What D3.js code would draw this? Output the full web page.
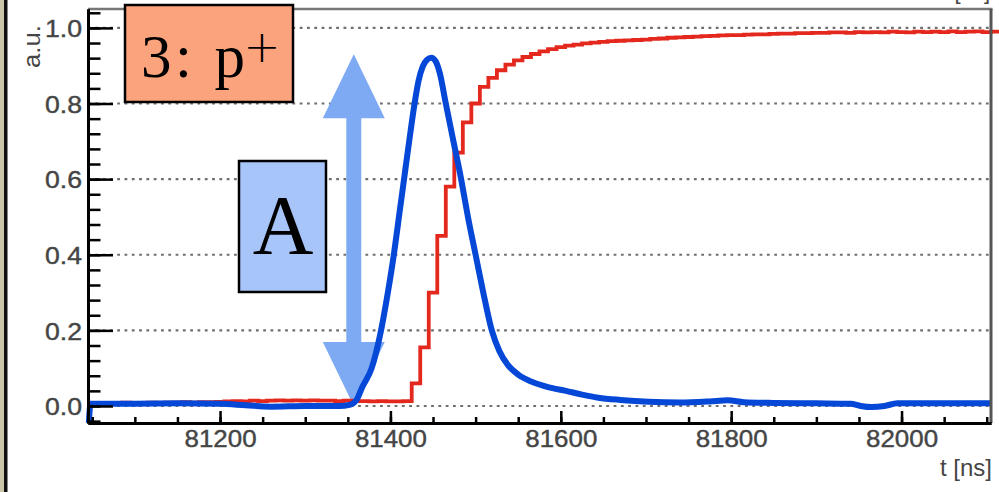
<!DOCTYPE html>
<html>
<head>
<meta charset="utf-8">
<script src="https://cdn.jsdelivr.net/npm/d3@7"></script>
<style>
  html, body { margin: 0; padding: 0; background: #fff; }
  svg { display: block; }
</style>
</head>
<body>
<svg id="chart" width="999" height="492"></svg>
<script>
// ---- data -------------------------------------------------------------
// Time window of the trace [ns]
const tDomain = [81045, 82105];
const yDomain = [-0.045, 1.05];

// Axis ticks
const xMajorTicks = [81200, 81400, 81600, 81800, 82000];
const xMinorTicks = d3.range(81050, 82105, 50);
const yMajorTicks = [0.0, 0.2, 0.4, 0.6, 0.8, 1.0];
const yMinorTicks = d3.range(-0.04, 1.05, 0.04);

// Integrated (cumulative) charge, 10 ns bins starting at 81045 ns
const redBinWidth = 10;
const redValues = [
  0.008, 0.008, 0.007, 0.008, 0.009, 0.008, 0.008, 0.009, 0.008, 0.009,
  0.009, 0.010, 0.009, 0.010, 0.010, 0.011,
  0.012, 0.013, 0.012, 0.014, 0.013, 0.014, 0.015, 0.014, 0.015, 0.014,
  0.015, 0.014, 0.014, 0.013, 0.014, 0.013, 0.013, 0.012, 0.013, 0.012,
  0.012, 0.013,
  0.060, 0.155, 0.300, 0.450, 0.580, 0.670, 0.750, 0.800, 0.844, 0.868,
  0.888, 0.903, 0.914, 0.923, 0.931, 0.938, 0.944, 0.949, 0.953, 0.956,
  0.959, 0.961, 0.963, 0.965, 0.966, 0.967, 0.968, 0.969, 0.971, 0.972,
  0.974, 0.975, 0.976, 0.977, 0.978, 0.979, 0.980, 0.981, 0.981, 0.982,
  0.983, 0.983, 0.984, 0.985, 0.985, 0.986, 0.986, 0.987, 0.987, 0.988,
  0.988, 0.987, 0.989, 0.988, 0.989, 0.988, 0.990, 0.989, 0.988, 0.990,
  0.989, 0.990, 0.989, 0.991, 0.989, 0.990, 0.991, 0.989, 0.990
];

// Current pulse (normalised), time [ns] and amplitude
const blueT = [
  81046, 81048, 81100, 81150, 81200, 81230, 81260, 81300, 81340, 81352,
  81360, 81367, 81378, 81389, 81397, 81404, 81410, 81416, 81422, 81428,
  81433, 81438, 81443, 81448, 81453, 81458, 81465, 81474, 81483, 81491,
  81500, 81509, 81519, 81528, 81538, 81550, 81566, 81585, 81606, 81625,
  81644, 81670, 81703, 81740, 81775, 81796, 81815, 81850, 81900, 81940,
  81952, 81965, 81980, 81995, 82050, 82104
];
const blueV = [
  -0.045, 0.006, 0.006, 0.007, 0.006, 0.002, -0.002, 0.000, 0.000, 0.003,
  0.015, 0.050, 0.100, 0.200, 0.300, 0.400, 0.500, 0.600, 0.700, 0.795,
  0.860, 0.898, 0.916, 0.921, 0.912, 0.880, 0.800, 0.700, 0.600, 0.500,
  0.400, 0.300, 0.200, 0.145, 0.108, 0.083, 0.064, 0.050, 0.040, 0.030,
  0.022, 0.016, 0.011, 0.009, 0.012, 0.015, 0.010, 0.008, 0.007, 0.006,
  0.000, -0.003, 0.000, 0.007, 0.007, 0.007
];

// Amplitude annotation: arrow position [ns] and span
const arrowT = 81357;
const arrowSpan = [0.0, 0.93];

// ---- layout -----------------------------------------------------------
const svg = d3.select("#chart");
const plot = { left: 88, right: 991, top: 9, bottom: 423 };

const x = d3.scaleLinear().domain(tDomain).range([plot.left, plot.right]);
const y = d3.scaleLinear().domain(yDomain).range([plot.bottom, plot.top]);

const labelFont = "'Liberation Sans', Arial, Helvetica, sans-serif";
const labelColor = "#454545";

// page edge on the left
svg.append("rect").attr("x", 0).attr("y", 0).attr("width", 4).attr("height", 492).attr("fill", "#cac7a8");
svg.append("rect").attr("x", 4).attr("y", 0).attr("width", 3.5).attr("height", 492).attr("fill", "#111");

// axis title of the panel above, running off the top edge
svg.append("text")
  .attr("x", 990).attr("y", -1)
  .attr("text-anchor", "end")
  .attr("font-family", labelFont).attr("font-size", 22)
  .attr("fill", labelColor)
  .text("t [ns]");

// dotted horizontal grid
svg.append("g")
  .selectAll("line")
  .data(yMajorTicks)
  .join("line")
  .attr("x1", plot.left).attr("x2", plot.right)
  .attr("y1", d => y(d)).attr("y2", d => y(d))
  .attr("stroke", "#6f6f6f")
  .attr("stroke-width", 2.2)
  .attr("stroke-dasharray", "2.8 4.5");

// amplitude arrow (double headed)
const ax = x(arrowT), aTop = y(arrowSpan[1]), aBot = y(arrowSpan[0]);
const headL = 64, headW = 31, shaftW = 7.5;
const arrowPath = [
  [ax, aTop], [ax + headW, aTop + headL], [ax + shaftW, aTop + headL],
  [ax + shaftW, aBot - headL], [ax + headW, aBot - headL], [ax, aBot],
  [ax - headW, aBot - headL], [ax - shaftW, aBot - headL],
  [ax - shaftW, aTop + headL], [ax - headW, aTop + headL]
];
svg.append("path")
  .attr("d", d3.line()(arrowPath) + "Z")
  .attr("fill", "#7eaaf4");

// cumulative charge: step histogram
const redEdges = d3.range(redValues.length).map(i => tDomain[0] + i * redBinWidth);
const redPts = redValues.map((v, i) => [redEdges[i], v]);
redPts.push([tDomain[0] + redValues.length * redBinWidth, redValues[redValues.length - 1]]);
svg.append("path")
  .datum(redPts)
  .attr("fill", "none")
  .attr("stroke", "#e4281d")
  .attr("stroke-width", 3.8)
  .attr("d", d3.line().x(d => x(d[0])).y(d => y(d[1])).curve(d3.curveStepAfter));

// current pulse
const bluePts = blueT.map((t, i) => [t, blueV[i]]);
svg.append("path")
  .datum(bluePts)
  .attr("fill", "none")
  .attr("stroke", "#0547d6")
  .attr("stroke-width", 6)
  .attr("stroke-linejoin", "round")
  .attr("d", d3.line().x(d => x(d[0])).y(d => y(d[1])).curve(d3.curveMonotoneX));

// frame: top and right
svg.append("line")
  .attr("x1", plot.left).attr("x2", plot.right + 1.5)
  .attr("y1", plot.top).attr("y2", plot.top)
  .attr("stroke", "#777").attr("stroke-width", 2.5);
svg.append("line")
  .attr("x1", plot.right).attr("x2", plot.right)
  .attr("y1", plot.top).attr("y2", plot.bottom)
  .attr("stroke", "#555").attr("stroke-width", 3);

// x axis: minor then major ticks, pointing into the frame
const gxMinor = svg.append("g")
  .attr("transform", `translate(0,${plot.bottom})`)
  .call(d3.axisBottom(x).tickValues(xMinorTicks).tickSize(-6).tickSizeOuter(0).tickFormat(""));
const gx = svg.append("g")
  .attr("transform", `translate(0,${plot.bottom})`)
  .call(d3.axisBottom(x).tickValues(xMajorTicks).tickSize(-12).tickSizeOuter(0).tickFormat(d3.format("d")));

// y axis
const gyMinor = svg.append("g")
  .attr("transform", `translate(${plot.left},0)`)
  .call(d3.axisLeft(y).tickValues(yMinorTicks).tickSize(-12.5).tickSizeOuter(0).tickFormat(""));
const gy = svg.append("g")
  .attr("transform", `translate(${plot.left},0)`)
  .call(d3.axisLeft(y).tickValues(yMajorTicks).tickSize(-25).tickSizeOuter(0).tickFormat(d3.format(".1f")));

[gxMinor, gx, gyMinor, gy].forEach(g => {
  g.select(".domain").attr("stroke", "#000").attr("stroke-width", 3);
  g.selectAll(".tick line").attr("stroke", "#000").attr("stroke-width", 2.5);
});

gx.selectAll(".tick text")
  .attr("y", 24).attr("dy", null)
  .attr("font-family", labelFont).attr("font-size", 23)
  .attr("fill", labelColor)
  .attr("stroke", labelColor).attr("stroke-width", 0.4)
  .attr("textLength", 72).attr("lengthAdjust", "spacingAndGlyphs");

gy.selectAll(".tick text")
  .attr("x", -6).attr("dy", "0.38em")
  .attr("font-family", labelFont).attr("font-size", 23)
  .attr("fill", labelColor)
  .attr("stroke", labelColor).attr("stroke-width", 0.4)
  .attr("textLength", 37).attr("lengthAdjust", "spacingAndGlyphs");

// axis titles
svg.append("text")
  .attr("transform", "translate(40,25) rotate(-90)")
  .attr("text-anchor", "end")
  .attr("font-family", labelFont).attr("font-size", 23)
  .attr("fill", labelColor)
  .attr("textLength", 43).attr("lengthAdjust", "spacingAndGlyphs")
  .text("a.u.");
svg.append("text")
  .attr("x", 992).attr("y", 476)
  .attr("text-anchor", "end")
  .attr("font-family", labelFont).attr("font-size", 24)
  .attr("fill", labelColor)
  .text("t [ns]");

// particle label box
const serif = "'Liberation Serif', 'Times New Roman', serif";
svg.append("rect")
  .attr("x", 125).attr("y", 5).attr("width", 168).attr("height", 97)
  .attr("fill", "#fba37d").attr("stroke", "#000").attr("stroke-width", 2.5);
svg.append("text")
  .attr("x", 141).attr("y", 77)
  .attr("font-family", serif).attr("font-size", 61)
  .attr("fill", "#000")
  .attr("textLength", 104).attr("lengthAdjust", "spacing")
  .text("3: p");
svg.append("text")
  .attr("x", 262).attr("y", 62)
  .attr("text-anchor", "middle")
  .attr("font-family", "'DejaVu Sans', sans-serif").attr("font-size", 44)
  .attr("font-weight", 200)
  .attr("fill", "#000")
  .text("+");

// amplitude label box
svg.append("rect")
  .attr("x", 239).attr("y", 161).attr("width", 87).attr("height", 131)
  .attr("fill", "#a8c5f9").attr("stroke", "#000").attr("stroke-width", 2.5);
svg.append("text")
  .attr("x", 283).attr("y", 254)
  .attr("text-anchor", "middle")
  .attr("font-family", serif).attr("font-size", 84)
  .attr("fill", "#000")
  .text("A");
</script>
</body>
</html>
